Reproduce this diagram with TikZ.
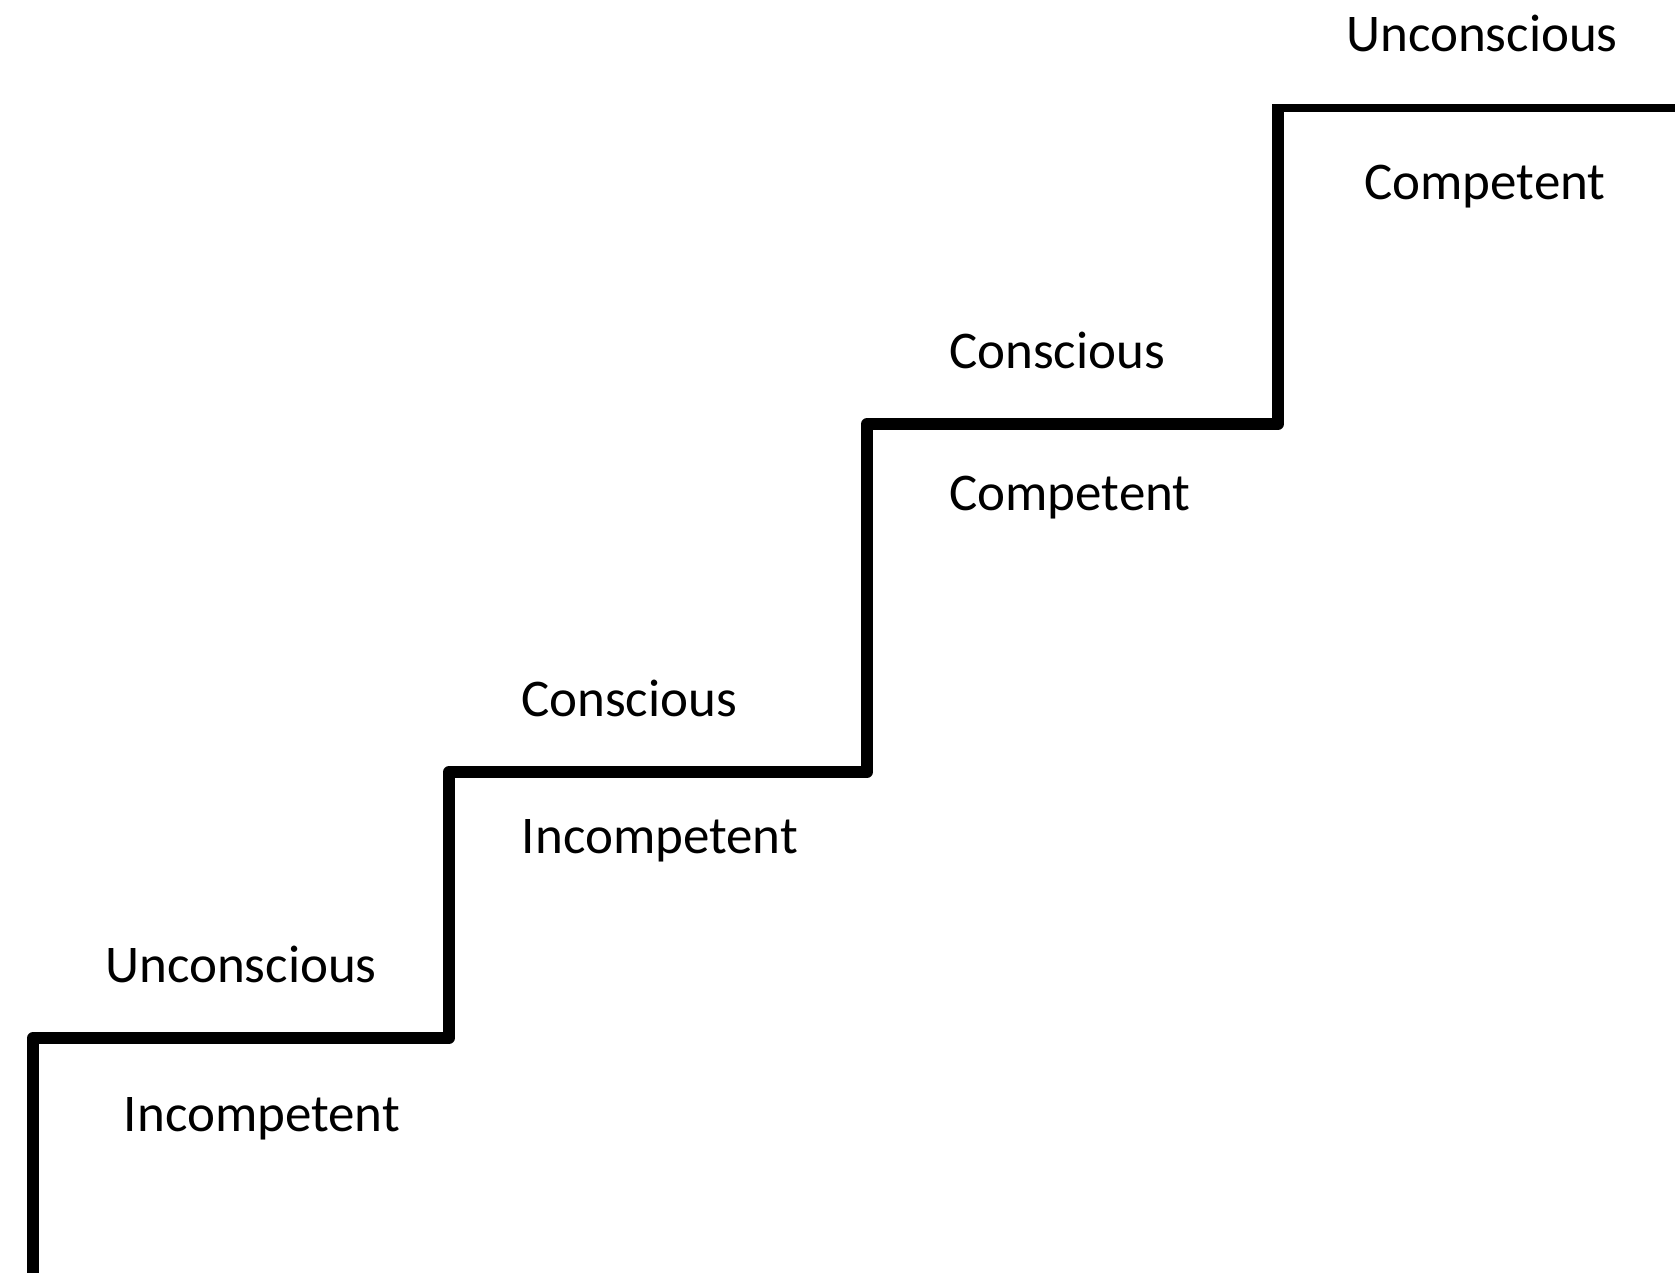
\documentclass[tikz,border=0pt]{standalone}
\usepackage{fontspec}
\setmainfont{Carlito}
\begin{document}
\begin{tikzpicture}[x=1pt,y=-1pt,
  stair/.style={line width=12pt, line join=round, black},
  landing/.style={line width=8pt, black},
  label/.style={anchor=base, inner sep=0pt, font=\fontsize{53}{63}\selectfont}]
\useasboundingbox (0,0) rectangle (1675,1273);

% corners of the staircase
\coordinate (s0) at (33,1273);
\coordinate (s1) at (33,1038);
\coordinate (s2) at (449,1038);
\coordinate (s3) at (449,772);
\coordinate (s4) at (867,772);
\coordinate (s5) at (867,424);
\coordinate (s6) at (1278,424);
\coordinate (s7) at (1278,104);
\coordinate (s8) at (1278,108);
\coordinate (s9) at (1675,108);

\draw[stair] (s0) -- (s1) -- (s2) -- (s3) -- (s4) -- (s5) -- (s6) -- (s7);
\draw[landing] (s8) -- (s9);

% stage labels, above and below each tread
\node[label] (u1) at (241,982) {Unconscious};
\node[label] (i1) at (262,1131) {Incompetent};
\node[label] (c2) at (629,716) {Conscious};
\node[label] (i2) at (660,853) {Incompetent};
\node[label] (c3) at (1057,368) {Conscious};
\node[label] (p3) at (1070,510) {Competent};
\node[label] (u4) at (1482,52) {Unconscious};
\node[label] (p4) at (1485,200) {Competent};
\end{tikzpicture}
\end{document}
